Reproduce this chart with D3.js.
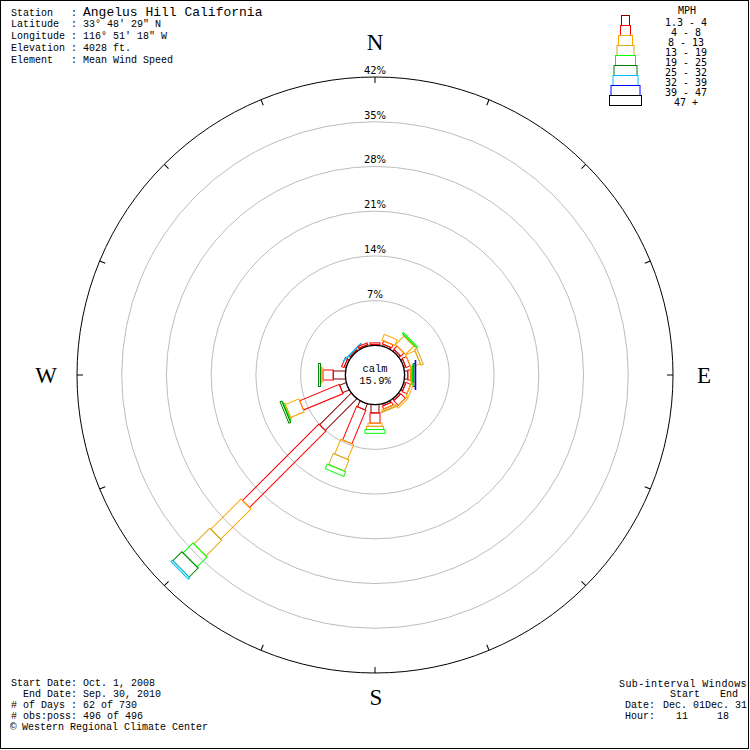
<!DOCTYPE html>
<html>
<head>
<meta charset="utf-8">
<script src="https://cdn.jsdelivr.net/npm/d3@7"></script>
<style>
  html, body { margin: 0; padding: 0; background: #fff; }
  svg { display: block; }
  .mono { font-family: "Liberation Mono", "DejaVu Sans Mono", monospace; }
</style>
</head>
<body>
<svg id="chart" width="750" height="750"></svg>
<script>
// ---------------- DATA ----------------
const directions = ["N","NNE","NE","ENE","E","ESE","SE","SSE","S","SSW","SW","WSW","W","WNW","NW","NNW"];
const speedClasses = ["1.3 - 4","4 - 8","8 - 13","13 - 19","19 - 25","25 - 32","32 - 39","39 - 47","47 +"];
// percent frequency of each speed class per direction (N .. NNW)
const s1_3to4  = [0.15,0.3,0.3,0.3,0.5,0.3,0.3,0.3,1.3,1.0,7.0,1.1,1.9,0.3,0.15,0.2];
const s4to8    = [0.25,0.5,0.7,0.7,0.45,0.8,1.0,0.5,1.6,5.7,16.9,6.7,1.6,0.4,0.2,0.3];
const s8to13   = [0,1.0,1.9,1.6,0.15,0.4,0.3,0.3,0.5,2.5,6.7,2.3,0.3,0,0,0];
const s13to19  = [0,0,0.1,0.4,0.1,0,0,0.1,0.5,1.9,3.5,0.2,0.1,0,0,0];
const s19to25  = [0,0,0.2,0,0.15,0,0,0,0.6,0.8,2.2,0.1,0,0,0,0];
const s25to32  = [0,0,0,0,0.3,0,0,0,0,0,2.0,0.3,0.3,0,0,0];
const s32to39  = [0,0,0,0,0,0,0,0,0,0,0.3,0,0,0,0.1,0];
const s39to47  = [0,0,0,0,0.1,0,0,0,0,0,0,0,0,0,0,0];
const s47plus  = [0,0,0,0,0,0,0,0,0,0,0,0,0,0,0,0];
const ringTicks = [7,14,21,28,35,42];
const calmPct = "15.9%";
const compass = ["N","E","S","W"];
const headerLabels = ["Station   : ","Latitude  : ","Longitude : ","Elevation : ","Element   : "];
const headerValues = ["Angelus Hill California","33° 48' 29\" N","116° 51' 18\" W","4028 ft.","Mean Wind Speed"];
const footerLeft = ["Start Date: Oct. 1, 2008","  End Date: Sep. 30, 2010","# of Days : 62 of 730","# obs:poss: 496 of 496"];
const credit = "Western Regional Climate Center";
const subTitle = "Sub-interval Windows";
const subCols = ["Start","End"];
const subDates = ["Dec. 01","Dec. 31"];
const subHours = ["11","18"];

// ---------------- STYLE ----------------
const classColors = ["#800000","#ff0000","#ffa500","#daa520","#00ff00","#008000","#00bfff","#0000ff","#000000"];
const classWidths = [8,10,14,17,20,23,25,29,32];
const series = [s1_3to4,s4to8,s8to13,s13to19,s19to25,s25to32,s32to39,s39to47,s47plus];

const svg = d3.select("#chart");
const cx = 375, cy = 375;
const r = d3.scaleLinear().domain([0, 42]).range([29.6, 298]);
const angle = d3.scaleBand().domain(directions).range([0, 360]).paddingInner(0).align(0);
const ang = d => angle(d);

// border
svg.append("rect").attr("x",0.5).attr("y",0.5).attr("width",748).attr("height",748)
  .attr("fill","none").attr("stroke","#000");

const g = svg.append("g").attr("transform",`translate(${cx},${cy})`);

// rings
ringTicks.forEach(t => {
  g.append("circle").attr("r", r(t)).attr("fill","none")
    .attr("stroke", t === 42 ? "#000" : "#bdbdbd").attr("stroke-width",1);
  g.append("text").attr("x",0).attr("y",-r(t)-3).attr("text-anchor","middle")
    .attr("font-family","DejaVu Sans, sans-serif").attr("font-size",10).text(t + "%");
});

// ticks on outer ring
directions.forEach(d => {
  g.append("line").attr("transform",`rotate(${ang(d)})`)
    .attr("x1",0).attr("x2",0).attr("y1",-r(42)).attr("y2",-r(42)+6)
    .attr("stroke","#000");
});

// petals
directions.forEach((d,i) => {
  let cum = 0;
  const pg = g.append("g").attr("transform",`rotate(${ang(d)})`);
  series.forEach((s,k) => {
    const v = s[i];
    if (v > 0) {
      const r0 = r(cum), r1 = r(cum + v);
      pg.append("rect")
        .attr("x", -classWidths[k]/2).attr("y", -r1)
        .attr("width", classWidths[k]).attr("height", Math.max(r1 - r0, 0.6))
        .attr("fill","none").attr("stroke", classColors[k]).attr("stroke-width",1);
    }
    cum += v;
  });
});

// calm circle
g.append("circle").attr("r", r(0)).attr("fill","#fff").attr("stroke","#000").attr("stroke-width",1.3);
g.append("text").attr("class","mono").attr("x",0).attr("y",-3).attr("text-anchor","middle")
  .attr("font-size",10.5).text("calm");
g.append("text").attr("class","mono").attr("x",0).attr("y",8.5).attr("text-anchor","middle")
  .attr("font-size",10.5).text(calmPct);

// compass letters
const cpos = {N:[375,50],E:[704,383],S:[376,705],W:[46,383]};
compass.forEach(c => {
  svg.append("text").attr("x",cpos[c][0]).attr("y",cpos[c][1]).attr("text-anchor","middle")
    .attr("font-family","Liberation Serif, DejaVu Serif, serif").attr("font-size",23).text(c);
});

// header
headerLabels.forEach((lab,i) => {
  const t = svg.append("text").attr("class","mono").attr("x",11).attr("y",[16,27,39,51,63][i])
    .attr("font-size",10).style("white-space","pre");
  t.append("tspan").text(lab);
  t.append("tspan").attr("font-size", i === 0 ? 13 : 10).text(headerValues[i]);
});

// footer left
footerLeft.forEach((line,i) => {
  svg.append("text").attr("class","mono").attr("x",11).attr("y",[686,697,708,719][i])
    .attr("font-size",10).style("white-space","pre").text(line);
});
svg.append("text").attr("class","mono").attr("x",10).attr("y",730).attr("font-size",11).text("©");
svg.append("text").attr("class","mono").attr("x",22).attr("y",730).attr("font-size",10).text(credit);

// footer right
const fr = [[subTitle,619,687],[subCols[0],670,697],[subCols[1],720,697],["Date:",625,708],
  [subDates[0],663,708],[subDates[1],705,708],["Hour:",625,719],[subHours[0],676,719],[subHours[1],717,719]];
fr.forEach((f,i) => {
  const t = svg.append("text").attr("class","mono").attr("x",f[1]).attr("y",f[2]).attr("font-size",10)
    .style("white-space","pre").text(f[0]);
  if (i === 0) t.attr("letter-spacing",0.4);
});

// legend
const lg = svg.append("g");
lg.append("text").attr("x",687).attr("y",14).attr("text-anchor","middle")
  .attr("font-family","DejaVu Sans Mono, monospace").attr("font-size",10).text("MPH");
speedClasses.forEach((lab,k) => {
  const w = classWidths[k];
  lg.append("rect").attr("x",625.5 - w/2).attr("y",15.5 + k*10).attr("width",w).attr("height",10)
    .attr("fill","#fff").attr("stroke",classColors[k]).attr("stroke-width",1);
  lg.append("text").attr("x",686).attr("y",26 + k*10).attr("text-anchor","middle")
    .attr("font-family","DejaVu Sans Mono, monospace").attr("font-size",10)
    .style("white-space","pre").text(lab);
});
</script>
</body>
</html>
